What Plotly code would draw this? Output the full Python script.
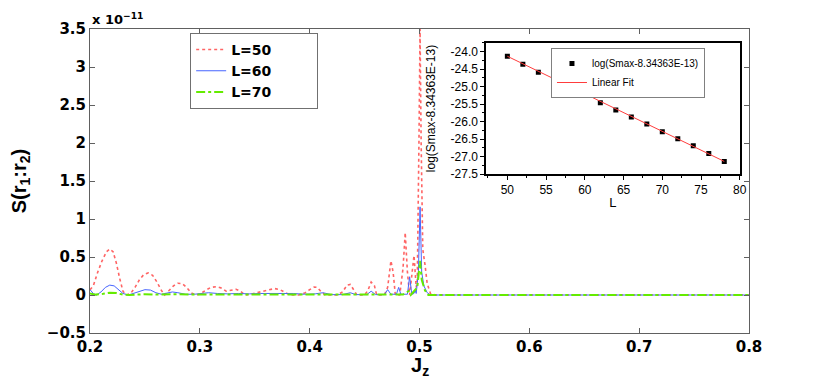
import plotly.graph_objects as go

# main panel data, S(r1:r2) in units of 1e-11
jz_50 = [0.200, 0.203, 0.207, 0.211, 0.215, 0.218, 0.221, 0.224, 0.227, 0.230, 0.233, 0.237, 0.241,
         0.245, 0.249, 0.253, 0.257, 0.261, 0.265, 0.268, 0.272, 0.276, 0.280, 0.284, 0.288, 0.292,
         0.296, 0.300, 0.305, 0.310, 0.315, 0.320, 0.324, 0.328, 0.333, 0.337, 0.341, 0.346, 0.352,
         0.358, 0.364, 0.368, 0.373, 0.378, 0.382, 0.390, 0.396, 0.400, 0.404, 0.407, 0.410, 0.414,
         0.425, 0.430, 0.434, 0.437, 0.440, 0.443, 0.450, 0.453, 0.456, 0.459, 0.461, 0.468, 0.471,
         0.474, 0.476, 0.478, 0.482, 0.485, 0.487, 0.489, 0.491, 0.493, 0.495, 0.497, 0.498, 0.4995,
         0.5005, 0.5015, 0.503, 0.505, 0.507, 0.510, 0.515, 0.800]
s_50 = [0.07, 0.12, 0.30, 0.45, 0.57, 0.605, 0.57, 0.42, 0.22, 0.05, 0.0, 0.02, 0.10,
        0.20, 0.27, 0.29, 0.26, 0.17, 0.06, 0.0, 0.06, 0.12, 0.155, 0.15, 0.10, 0.03,
        0.0, 0.01, 0.06, 0.10, 0.11, 0.09, 0.05, 0.06, 0.075, 0.05, 0.0, 0.01, 0.03,
        0.06, 0.08, 0.085, 0.07, 0.03, 0.0, 0.0, 0.03, 0.07, 0.105, 0.10, 0.05, 0.0,
        0.0, 0.04, 0.13, 0.14, 0.06, 0.0, 0.0, 0.06, 0.17, 0.12, 0.0, 0.0, 0.10,
        0.45, 0.30, 0.0, 0.0, 0.35, 0.82, 0.30, 0.0, 0.25, 0.52, 0.10, 0.20, 2.0,
        3.5, 2.0, 0.6, 0.40, 0.15, 0.02, 0.0, 0.0]

jz_60 = [0.200, 0.203, 0.206, 0.210, 0.214, 0.218, 0.222, 0.226, 0.230, 0.235, 0.240, 0.245, 0.250,
         0.255, 0.260, 0.265, 0.270, 0.275, 0.280, 0.287, 0.295, 0.300, 0.308, 0.316, 0.325, 0.335,
         0.345, 0.355, 0.365, 0.375, 0.385, 0.395, 0.405, 0.412, 0.420, 0.430, 0.437, 0.442, 0.452,
         0.456, 0.460, 0.468, 0.471, 0.474, 0.479, 0.481, 0.483, 0.489, 0.491, 0.493, 0.495, 0.496,
         0.497, 0.499, 0.5005, 0.502, 0.504, 0.507, 0.510, 0.800]
s_60 = [0.07, 0.02, 0.0, 0.04, 0.10, 0.13, 0.12, 0.07, 0.02, 0.0, 0.02, 0.05, 0.07,
        0.065, 0.03, 0.01, 0.03, 0.04, 0.03, 0.01, 0.01, 0.02, 0.03, 0.02, 0.015, 0.02,
        0.015, 0.02, 0.02, 0.015, 0.02, 0.01, 0.015, 0.03, 0.005, 0.005, 0.03, 0.005, 0.005,
        0.05, 0.005, 0.005, 0.07, 0.01, 0.01, 0.10, 0.01, 0.01, 0.24, 0.01, 0.02, 0.06,
        0.02, 0.30, 1.16, 0.30, 0.12, 0.03, 0.0, 0.0]

jz_70 = [0.200, 0.205, 0.212, 0.218, 0.224, 0.230, 0.236, 0.250, 0.260, 0.275, 0.300, 0.350,
         0.400, 0.450, 0.485, 0.490, 0.492, 0.498, 0.5005, 0.502, 0.505, 0.508, 0.800]
s_70 = [0.02, 0.005, 0.015, 0.03, 0.025, 0.005, 0.0, 0.01, 0.005, 0.01, 0.005, 0.005,
        0.005, 0.005, 0.005, 0.05, 0.0, 0.10, 0.45, 0.20, 0.06, 0.0, 0.0]

# inset data
L_vals = [50, 52, 54, 56, 58, 60, 62, 64, 66, 68, 70, 72, 74, 76, 78]
log_smax = [-24.13, -24.36, -24.59, -24.82, -25.04, -25.25, -25.46, -25.67, -25.87, -26.07,
            -26.29, -26.49, -26.69, -26.91, -27.14]
fit_L = [50, 78]
fit_y = [-24.13, -27.14]
inset_yticks = [-24.0, -24.5, -25.0, -25.5, -26.0, -26.5, -27.0, -27.5]
inset_yticktext = ["-24.0", "-24.5", "-25.0", "-25.5", "-26.0", "-26.5", "-27.0", "-27.5"]

bold = "DejaVu Sans"
arial = "Liberation Sans"
pad = "\u00a0" * 9

fig = go.Figure()
fig.add_trace(go.Scatter(x=jz_50, y=s_50, mode="lines", name="<b>L=50</b>" + pad,
                         line=dict(color="rgb(255,100,100)", width=1.6, dash="dot")))
fig.add_trace(go.Scatter(x=jz_60, y=s_60, mode="lines", name="<b>L=60</b>" + pad,
                         line=dict(color="rgb(70,100,255)", width=1)))
fig.add_trace(go.Scatter(x=jz_70, y=s_70, mode="lines", name="<b>L=70</b>" + pad,
                         line=dict(color="rgb(100,235,0)", width=2, dash="dashdot")))

fig.add_trace(go.Scatter(x=L_vals, y=log_smax, mode="markers", name="log(Smax-8.34363E-13)",
                         marker=dict(symbol="square", size=5, color="black"),
                         xaxis="x2", yaxis="y2", legend="legend2"))
fig.add_trace(go.Scatter(x=fit_L, y=fit_y, mode="lines", name="Linear Fit",
                         line=dict(color="rgb(255,60,60)", width=1),
                         xaxis="x2", yaxis="y2", legend="legend2"))

axis_common = dict(showgrid=False, zeroline=False, showline=True, linecolor="#606060",
                   linewidth=1, mirror="ticks", ticks="inside", ticklen=5, tickcolor="#606060",
                   automargin=False,
                   tickfont=dict(family=bold, size=15, color="black", weight="bold"))

# the page body adds an 8px offset, so the figure is 8px smaller each way
fig.update_layout(
    width=823, height=374,
    margin=dict(l=82, r=82, t=21, b=49, autoexpand=False),
    plot_bgcolor="white", paper_bgcolor="white",
    xaxis=dict(axis_common, range=[0.2, 0.8], dtick=0.1, tick0=0.2),
    yaxis=dict(axis_common, range=[-0.5, 3.5], dtick=0.5,
               title=dict(text="<b>S(r<sub>1</sub>:r<sub>2</sub>)</b>",
                          font=dict(family=arial, size=20, color="black"), standoff=22)),
    xaxis2=dict(domain=[0.601, 0.986], anchor="y2", range=[47.25, 80], dtick=5,
                showgrid=False, zeroline=False, showline=True, linecolor="black", linewidth=1.5,
                mirror=True, ticks="outside", ticklen=4, tickcolor="black", automargin=False,
                minor=dict(ticks="outside", ticklen=2, dtick=2.5, tickcolor="black"),
                tickfont=dict(family=arial, size=12, color="black"),
                title=dict(text="L", font=dict(family=arial, size=13, color="black"), standoff=2)),
    yaxis2=dict(domain=[0.523, 0.954], anchor="x2", range=[-27.5, -23.75],
                tickvals=inset_yticks, ticktext=inset_yticktext,
                showgrid=False, zeroline=False, showline=True, linecolor="black", linewidth=1.5,
                mirror=True, ticks="outside", ticklen=4, tickcolor="black", automargin=False,
                minor=dict(ticks="outside", ticklen=2, dtick=0.25, tickcolor="black"),
                tickfont=dict(family=arial, size=12, color="black"),
                title=dict(text="log(Smax-8.34363E-13)", font=dict(family=arial, size=12, color="black"),
                           standoff=12)),
    legend=dict(x=0.152, y=0.987, xanchor="left", yanchor="top", bgcolor="white",
                bordercolor="#707070", borderwidth=1, tracegroupgap=0,
                font=dict(family=bold, size=14, color="black")),
    legend2=dict(x=0.6995, y=0.9375, xanchor="left", yanchor="top", bgcolor="white",
                 bordercolor="#808080", borderwidth=1, tracegroupgap=0,
                 font=dict(family=arial, size=10, color="black")),
    annotations=[
        dict(text="<b>x 10<sup>−11</sup></b>", xref="paper", yref="paper", x=0.0, y=1.0,
             xanchor="left", yanchor="bottom", showarrow=False,
             font=dict(family=bold, size=13, color="black")),
        dict(text="<b>J<sub>z</sub></b>", xref="paper", yref="paper", x=0.5, y=-0.11,
             xanchor="center", yanchor="middle", showarrow=False,
             font=dict(family=arial, size=20, color="black")),
    ],
)

fig.write_html("out.html")
